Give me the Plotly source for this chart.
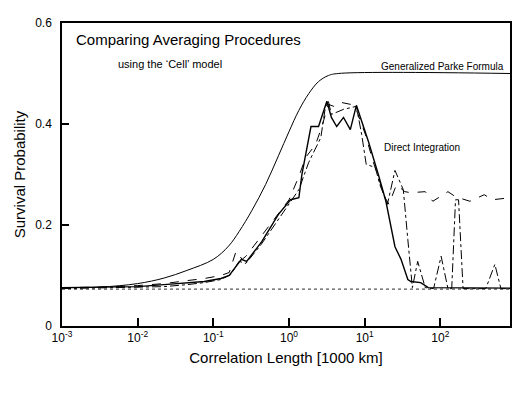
import plotly.graph_objects as go

# log10 of correlation length [1000 km] and survival probability
parke_log = [-3.0, -2.5, -2.0, -1.65, -1.35, -1.0, -0.8, -0.66, -0.49, -0.31, -0.14,
             0.0, 0.13, 0.26, 0.39, 0.52, 0.65, 2.92]
parke_p = [0.076, 0.077, 0.084, 0.095, 0.110, 0.132, 0.158, 0.187, 0.229, 0.280, 0.337,
           0.385, 0.427, 0.460, 0.484, 0.496, 0.500, 0.500]

solid_log = [-3.0, -2.5, -2.0, -1.65, -1.34, -1.12, -0.90, -0.79, -0.63, -0.56, -0.36,
             -0.14, 0.02, 0.13, 0.17, 0.29, 0.39, 0.50, 0.56, 0.63, 0.72, 0.81, 0.89,
             1.05, 1.18, 1.28, 1.40, 1.48, 1.57, 1.61, 1.74, 1.84, 2.92]
solid_p = [0.076, 0.077, 0.078, 0.082, 0.085, 0.088, 0.094, 0.100, 0.132, 0.128, 0.167,
           0.221, 0.250, 0.254, 0.300, 0.395, 0.395, 0.445, 0.413, 0.395, 0.413, 0.389, 0.437,
           0.365, 0.300, 0.247, 0.157, 0.132, 0.092, 0.088, 0.086, 0.076, 0.075]

dashed_log = [-3.0, -2.5, -2.0, -1.65, -1.34, -1.12, -0.90, -0.79, -0.70, -0.62, -0.57,
              -0.40, -0.17, 0.0, 0.13, 0.22, 0.35, 0.43, 0.52, 0.59, 0.68, 0.81, 0.88,
              1.01, 1.11, 1.27, 1.32, 1.42, 1.53, 1.61, 1.80, 1.90, 2.10, 2.20, 2.39,
              2.58, 2.69, 2.92]
dashed_p = [0.076, 0.077, 0.080, 0.084, 0.090, 0.094, 0.100, 0.106, 0.148, 0.132, 0.138,
            0.171, 0.217, 0.250, 0.296, 0.334, 0.359, 0.393, 0.439, 0.435, 0.443, 0.439, 0.432,
            0.379, 0.326, 0.254, 0.241, 0.280, 0.266, 0.264, 0.266, 0.247, 0.266, 0.256, 0.247,
            0.260, 0.250, 0.254]

dashdot_log = [-3.0, -2.5, -2.0, -1.65, -1.34, -1.12, -0.90, -0.77, -0.66, -0.57, -0.37,
               -0.16, 0.0, 0.13, 0.26, 0.42, 0.48, 0.52, 0.56, 0.65, 0.72, 0.89, 0.96,
               1.02, 1.14, 1.20, 1.30, 1.40, 1.51, 1.57, 1.63, 1.70, 1.80, 1.91, 2.01,
               2.10, 2.15, 2.20, 2.24, 2.30, 2.60, 2.72, 2.80, 2.92]
dashdot_p = [0.074, 0.075, 0.076, 0.078, 0.082, 0.086, 0.092, 0.102, 0.128, 0.124, 0.161,
             0.207, 0.241, 0.270, 0.324, 0.373, 0.433, 0.445, 0.419, 0.425, 0.429, 0.435, 0.379,
             0.320, 0.314, 0.280, 0.241, 0.308, 0.270, 0.171, 0.076, 0.128, 0.076, 0.074, 0.138,
             0.074, 0.074, 0.250, 0.250, 0.074, 0.074, 0.122, 0.074, 0.074]

baseline_log = [-3.0, 2.92]
baseline_p = [0.073, 0.073]

x_ticks = [1e-3, 1e-2, 1e-1, 1e0, 1e1, 1e2]
x_ticktext = ["10<sup>-3</sup>", "10<sup>-2</sup>", "10<sup>-1</sup>",
              "10<sup>0</sup>", "10<sup>1</sup>", "10<sup>2</sup>"]
y_ticks = [0, 0.2, 0.4, 0.6]
y_ticktext = ["0", "0.2", "0.4", "0.6"]

FONT = "Liberation Sans, Arial, sans-serif"

fig = go.Figure()


def add_line(logs, vals, dash, width, color="black", shape="linear"):
    fig.add_trace(go.Scatter(
        x=[10 ** v for v in logs], y=vals, mode="lines",
        line=dict(color=color, dash=dash, width=width, shape=shape),
        showlegend=False, hoverinfo="skip",
    ))


add_line(baseline_log, baseline_p, "dot", 1.2, color="#555555")
add_line(parke_log, parke_p, "solid", 1.0, shape="spline")
add_line(dashed_log, dashed_p, "dash", 1.0)
add_line(dashdot_log, dashdot_p, "dashdot", 1.0)
add_line(solid_log, solid_p, "solid", 1.4)

fig.add_annotation(x=0.026, y=0.947, xref="paper", yref="paper", text="Comparing Averaging Procedures",
                   showarrow=False, xanchor="left", yanchor="middle", font=dict(size=15, color="black"))
fig.add_annotation(x=0.12, y=0.865, xref="paper", yref="paper", text="using the \u2018Cell\u2019 model",
                   showarrow=False, xanchor="left", yanchor="middle", font=dict(size=11, color="black"))
fig.add_annotation(x=0.99, y=0.855, xref="paper", yref="paper", text="Generalized Parke Formula",
                   showarrow=False, xanchor="right", yanchor="middle", font=dict(size=10, color="black"))
fig.add_annotation(x=0.715, y=0.59, xref="paper", yref="paper", text="Direct Integration",
                   showarrow=False, xanchor="left", yanchor="middle", font=dict(size=10, color="black"))

fig.update_xaxes(
    type="log", range=[-3, 2.92],
    tickvals=x_ticks, ticktext=x_ticktext,
    ticks="inside", ticklen=8, tickwidth=1.5, tickcolor="black",
    showline=True, mirror=True, linecolor="black", linewidth=1.5,
    showgrid=False, zeroline=False,
    tickfont=dict(size=12, color="black"),
    title=dict(text="Correlation Length [1000 km]", font=dict(size=15, color="black"), standoff=8),
)
fig.update_yaxes(
    range=[0, 0.6],
    tickvals=y_ticks, ticktext=y_ticktext,
    ticks="inside", ticklen=7, tickwidth=1.5, tickcolor="black",
    showline=True, mirror=True, linecolor="black", linewidth=1.5,
    showgrid=False, zeroline=False,
    tickfont=dict(size=12, color="black"),
    ticklabelstandoff=6,
    title=dict(text="Survival Probability", font=dict(size=15, color="black"), standoff=6),
)
fig.update_layout(
    width=518, height=394,
    margin=dict(l=62, r=6, t=23, b=68),
    paper_bgcolor="white", plot_bgcolor="white",
    font=dict(family=FONT, color="black"),
)

# drop the default page margin so the figure sits at the window's corner
fig.write_html("out.html", config={"displayModeBar": False},
               post_script="document.body.style.margin='0px';")
